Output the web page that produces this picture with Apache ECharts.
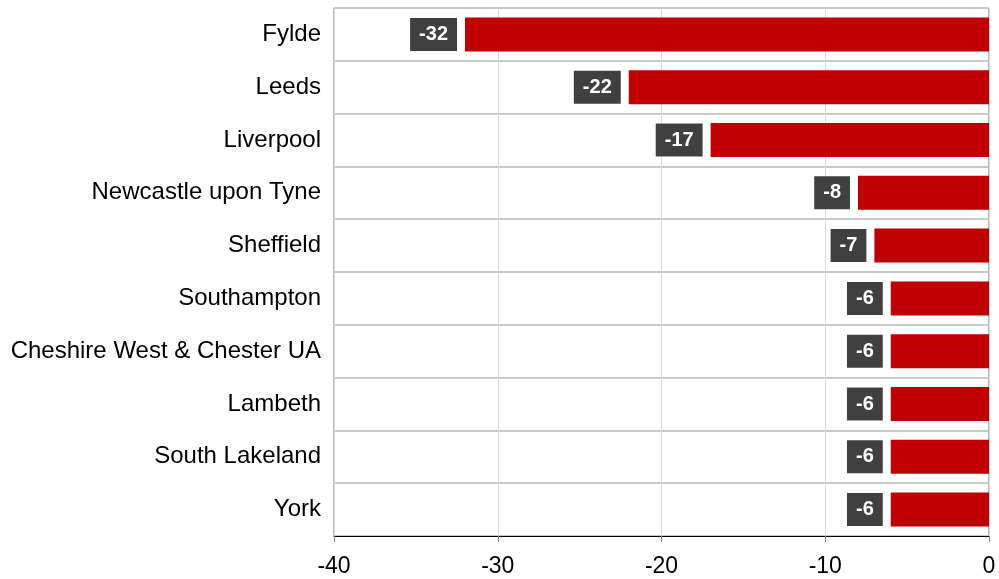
<!DOCTYPE html>
<html>
<head>
<meta charset="utf-8">
<script src="https://cdn.jsdelivr.net/npm/echarts@6/dist/echarts.min.js"></script>
<style>
  html, body { margin: 0; padding: 0; background: #fff; }
  #main { width: 999px; height: 579px; }
</style>
</head>
<body>
<div id="main"></div>
<script>
  var categories = ["Fylde", "Leeds", "Liverpool", "Newcastle upon Tyne", "Sheffield",
    "Southampton", "Cheshire West & Chester UA", "Lambeth", "South Lakeland", "York"];
  var values = [-32, -22, -17, -8, -7, -6, -6, -6, -6, -6];
  var xTicks = [-40, -30, -20, -10, 0];

  var fontName = "'Liberation Sans', Arial, sans-serif";
  var chart = echarts.init(document.getElementById("main"));
  var option = {
    backgroundColor: "#fff",
    animation: false,
    grid: {
      left: 334,
      right: 10,
      top: 8,
      bottom: 43,
      show: true,
      borderColor: "#6e6e6e",
      borderWidth: 1
    },
    xAxis: {
      type: "value",
      min: xTicks[0],
      max: xTicks[xTicks.length - 1],
      interval: 10,
      axisLine: { show: true, onZero: false, lineStyle: { color: "#000", width: 1 } },
      axisTick: { show: true, length: 6, lineStyle: { color: "#888" } },
      splitLine: { show: true, lineStyle: { color: "#d9d9d9", width: 1 } },
      axisLabel: {
        color: "#000",
        fontSize: 23,
        fontFamily: fontName,
        margin: 19
      }
    },
    yAxis: {
      type: "category",
      inverse: true,
      data: categories,
      axisLine: { show: false },
      axisTick: { show: false },
      splitLine: { show: true, lineStyle: { color: "#c8c8c8", width: 2 } },
      axisLabel: {
        color: "#000",
        fontSize: 24,
        fontFamily: fontName,
        margin: 13
      }
    },
    series: [
      {
        type: "bar",
        data: values,
        barWidth: 34,
        itemStyle: { color: "#c00000" },
        label: {
          show: true,
          position: "left",
          distance: 8,
          color: "#fff",
          fontWeight: "bold",
          fontSize: 20,
          fontFamily: fontName,
          backgroundColor: "#404040",
          padding: [7, 9, 5, 9],
          lineHeight: 21
        }
      }
    ]
  };
  chart.setOption(option);
</script>
</body>
</html>
